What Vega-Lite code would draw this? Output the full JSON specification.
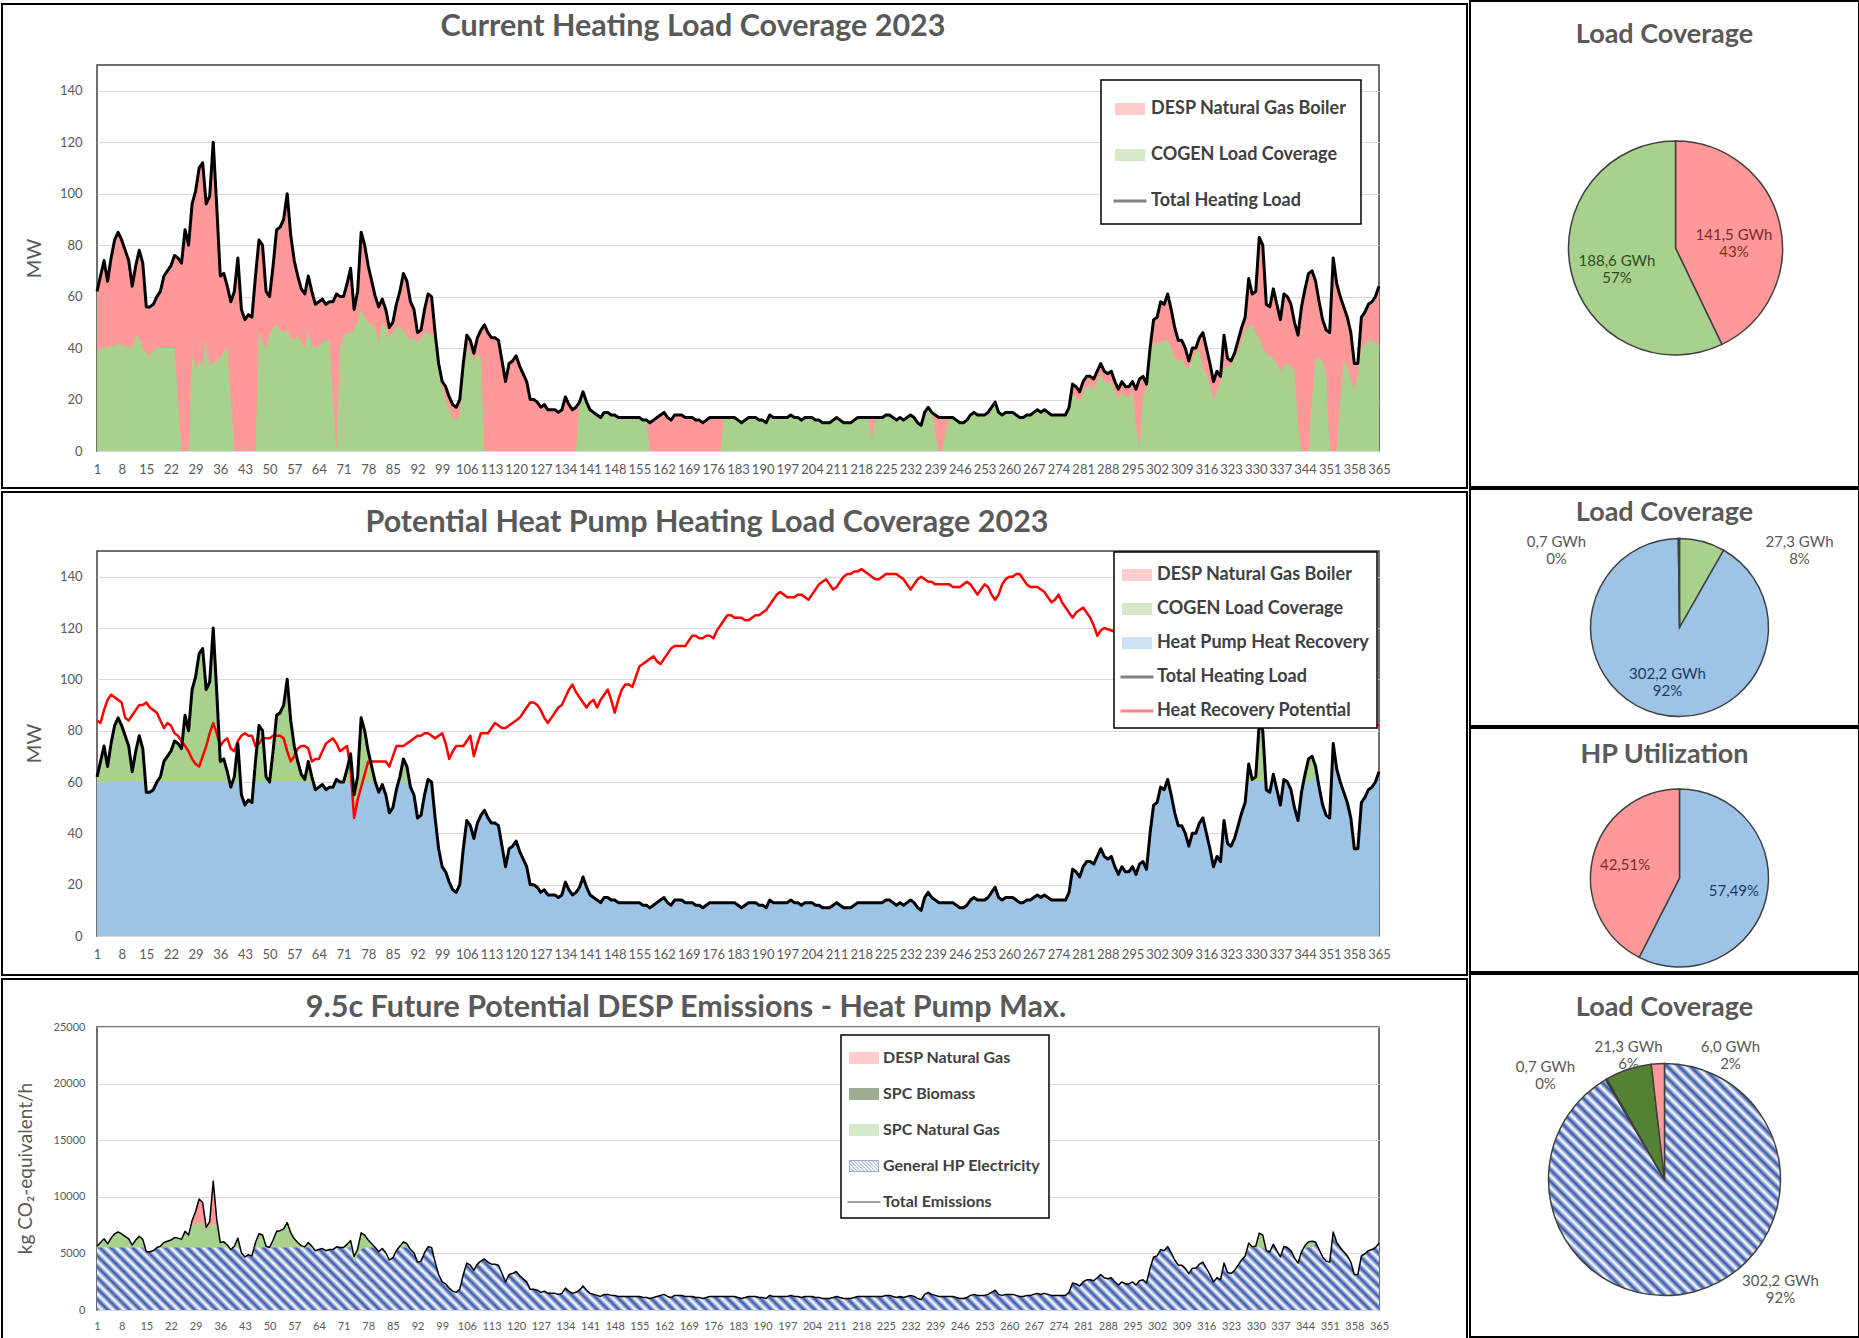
{
"$schema":"https://vega.github.io/schema/vega-lite/v6.json",
"padding":0,
"background":"white",
"spacing":0,
"resolve":{"scale":{"color":"independent","shape":"independent","theta":"independent"},"legend":{"color":"independent","shape":"independent"}},
"config":{"font":"Lato","view":{"stroke":null},"axis":{"labelFont":"Lato","titleFont":"Lato","labelOverlap":false},"legend":{"labelFont":"Lato","strokeWidth":1.5},"title":{"font":"Lato","fontSize":30.5,"fontWeight":"bold","color":"#595959"},"text":{"font":"Lato"}},
"datasets":{"days":[
{"d":1,"L":62,"G":38,"H":60,"R":84,"E":5630,"B":5520},
{"d":2,"L":68,"G":40,"H":60,"R":83,"E":5960,"B":5520},
{"d":3,"L":74,"G":40,"H":60,"R":88,"E":6290,"B":5520},
{"d":4,"L":66,"G":40,"H":60,"R":92,"E":5850,"B":5520},
{"d":5,"L":75,"G":41,"H":60,"R":94,"E":6350,"B":5520},
{"d":6,"L":82,"G":41,"H":60,"R":93,"E":6730,"B":5520},
{"d":7,"L":85,"G":42,"H":60,"R":92,"E":6900,"B":5520},
{"d":8,"L":82,"G":41,"H":60,"R":91,"E":6730,"B":5520},
{"d":9,"L":78,"G":41,"H":60,"R":85,"E":6510,"B":5520},
{"d":10,"L":74,"G":40,"H":60,"R":84,"E":6290,"B":5520},
{"d":11,"L":64,"G":40,"H":60,"R":86,"E":5740,"B":5520},
{"d":12,"L":72,"G":45,"H":60,"R":88,"E":6180,"B":5520},
{"d":13,"L":78,"G":44,"H":60,"R":90,"E":6510,"B":5520},
{"d":14,"L":73,"G":40,"H":60,"R":90,"E":6240,"B":5520},
{"d":15,"L":56,"G":38,"H":56,"R":91,"E":5150,"B":5150},
{"d":16,"L":56,"G":37,"H":56,"R":89,"E":5150,"B":5150},
{"d":17,"L":57,"G":39,"H":57,"R":88,"E":5240,"B":5240},
{"d":18,"L":60,"G":40,"H":60,"R":87,"E":5520,"B":5520},
{"d":19,"L":62,"G":40,"H":60,"R":84,"E":5630,"B":5520},
{"d":20,"L":68,"G":40,"H":60,"R":81,"E":5960,"B":5520},
{"d":21,"L":70,"G":40,"H":60,"R":83,"E":6070,"B":5520},
{"d":22,"L":72,"G":40,"H":60,"R":82,"E":6180,"B":5520},
{"d":23,"L":76,"G":40,"H":60,"R":79,"E":6400,"B":5520},
{"d":24,"L":75,"G":20,"H":60,"R":78,"E":6350,"B":5520},
{"d":25,"L":73,"G":0,"H":60,"R":76,"E":6240,"B":5520},
{"d":26,"L":86,"G":0,"H":60,"R":74,"E":6950,"B":5520},
{"d":27,"L":80,"G":0,"H":60,"R":72,"E":6620,"B":5520},
{"d":28,"L":96,"G":38,"H":60,"R":69,"E":7900,"B":5520},
{"d":29,"L":101,"G":32,"H":60,"R":67,"E":8700,"B":5520},
{"d":30,"L":110,"G":35,"H":60,"R":66,"E":9800,"B":5520},
{"d":31,"L":112,"G":33,"H":60,"R":70,"E":9500,"B":5520},
{"d":32,"L":96,"G":43,"H":60,"R":74,"E":7300,"B":5520},
{"d":33,"L":99,"G":33,"H":60,"R":79,"E":7800,"B":5520},
{"d":34,"L":120,"G":34,"H":60,"R":83,"E":11400,"B":5520},
{"d":35,"L":95,"G":35,"H":60,"R":79,"E":8000,"B":5520},
{"d":36,"L":68,"G":36,"H":60,"R":74,"E":5960,"B":5520},
{"d":37,"L":69,"G":39,"H":60,"R":76,"E":6020,"B":5520},
{"d":38,"L":64,"G":40,"H":60,"R":77,"E":5740,"B":5520},
{"d":39,"L":58,"G":20,"H":58,"R":73,"E":5340,"B":5340},
{"d":40,"L":62,"G":0,"H":60,"R":72,"E":5630,"B":5520},
{"d":41,"L":75,"G":0,"H":60,"R":76,"E":6350,"B":5520},
{"d":42,"L":55,"G":0,"H":55,"R":78,"E":5060,"B":5060},
{"d":43,"L":51,"G":0,"H":51,"R":79,"E":4690,"B":4690},
{"d":44,"L":53,"G":0,"H":53,"R":78,"E":4880,"B":4880},
{"d":45,"L":52,"G":0,"H":52,"R":78,"E":4780,"B":4780},
{"d":46,"L":68,"G":0,"H":60,"R":74,"E":5960,"B":5520},
{"d":47,"L":82,"G":47,"H":60,"R":75,"E":6730,"B":5520},
{"d":48,"L":80,"G":42,"H":60,"R":77,"E":6620,"B":5520},
{"d":49,"L":62,"G":40,"H":60,"R":77,"E":5630,"B":5520},
{"d":50,"L":60,"G":45,"H":60,"R":77,"E":5520,"B":5520},
{"d":51,"L":72,"G":48,"H":60,"R":78,"E":6180,"B":5520},
{"d":52,"L":86,"G":49,"H":60,"R":78,"E":6950,"B":5520},
{"d":53,"L":87,"G":47,"H":60,"R":78,"E":7010,"B":5520},
{"d":54,"L":90,"G":46,"H":60,"R":77,"E":7170,"B":5520},
{"d":55,"L":100,"G":47,"H":60,"R":72,"E":7720,"B":5520},
{"d":56,"L":84,"G":44,"H":60,"R":68,"E":6840,"B":5520},
{"d":57,"L":74,"G":43,"H":60,"R":70,"E":6290,"B":5520},
{"d":58,"L":68,"G":45,"H":60,"R":73,"E":5960,"B":5520},
{"d":59,"L":63,"G":42,"H":60,"R":74,"E":5690,"B":5520},
{"d":60,"L":61,"G":40,"H":60,"R":74,"E":5580,"B":5520},
{"d":61,"L":68,"G":47,"H":60,"R":73,"E":5960,"B":5520},
{"d":62,"L":62,"G":41,"H":60,"R":68,"E":5630,"B":5520},
{"d":63,"L":57,"G":40,"H":57,"R":69,"E":5240,"B":5240},
{"d":64,"L":58,"G":41,"H":58,"R":69,"E":5340,"B":5340},
{"d":65,"L":59,"G":42,"H":59,"R":72,"E":5430,"B":5430},
{"d":66,"L":57,"G":43,"H":57,"R":75,"E":5240,"B":5240},
{"d":67,"L":58,"G":43,"H":58,"R":76,"E":5340,"B":5340},
{"d":68,"L":58,"G":20,"H":58,"R":77,"E":5340,"B":5340},
{"d":69,"L":61,"G":0,"H":60,"R":75,"E":5580,"B":5520},
{"d":70,"L":60,"G":40,"H":60,"R":72,"E":5520,"B":5520},
{"d":71,"L":60,"G":45,"H":60,"R":73,"E":5520,"B":5520},
{"d":72,"L":65,"G":46,"H":60,"R":74,"E":5800,"B":5520},
{"d":73,"L":71,"G":46,"H":60,"R":65,"E":6130,"B":5520},
{"d":74,"L":55,"G":47,"H":46,"R":46,"E":4730,"B":4230},
{"d":75,"L":62,"G":50,"H":53,"R":53,"E":5370,"B":4880},
{"d":76,"L":85,"G":55,"H":58,"R":58,"E":6820,"B":5340},
{"d":77,"L":80,"G":52,"H":60,"R":63,"E":6620,"B":5520},
{"d":78,"L":72,"G":50,"H":60,"R":68,"E":6180,"B":5520},
{"d":79,"L":66,"G":49,"H":60,"R":68,"E":5850,"B":5520},
{"d":80,"L":60,"G":48,"H":60,"R":68,"E":5520,"B":5520},
{"d":81,"L":56,"G":42,"H":56,"R":68,"E":5150,"B":5150},
{"d":82,"L":59,"G":50,"H":59,"R":68,"E":5430,"B":5430},
{"d":83,"L":55,"G":48,"H":55,"R":68,"E":5060,"B":5060},
{"d":84,"L":48,"G":44,"H":48,"R":66,"E":4420,"B":4420},
{"d":85,"L":50,"G":46,"H":50,"R":70,"E":4600,"B":4600},
{"d":86,"L":57,"G":48,"H":57,"R":74,"E":5240,"B":5240},
{"d":87,"L":62,"G":48,"H":60,"R":74,"E":5630,"B":5520},
{"d":88,"L":69,"G":47,"H":60,"R":74,"E":6020,"B":5520},
{"d":89,"L":66,"G":45,"H":60,"R":75,"E":5850,"B":5520},
{"d":90,"L":58,"G":43,"H":58,"R":76,"E":5340,"B":5340},
{"d":91,"L":55,"G":44,"H":55,"R":77,"E":5060,"B":5060},
{"d":92,"L":46,"G":42,"H":46,"R":78,"E":4230,"B":4230},
{"d":93,"L":47,"G":44,"H":47,"R":78,"E":4320,"B":4320},
{"d":94,"L":55,"G":46,"H":55,"R":79,"E":5060,"B":5060},
{"d":95,"L":61,"G":46,"H":60,"R":79,"E":5580,"B":5520},
{"d":96,"L":60,"G":45,"H":60,"R":78,"E":5520,"B":5520},
{"d":97,"L":46,"G":44,"H":46,"R":77,"E":4230,"B":4230},
{"d":98,"L":34,"G":32,"H":34,"R":78,"E":3130,"B":3130},
{"d":99,"L":27,"G":25,"H":27,"R":79,"E":2480,"B":2480},
{"d":100,"L":25,"G":20,"H":25,"R":75,"E":2300,"B":2300},
{"d":101,"L":21,"G":16,"H":21,"R":69,"E":1930,"B":1930},
{"d":102,"L":18,"G":13,"H":18,"R":72,"E":1660,"B":1660},
{"d":103,"L":17,"G":12,"H":17,"R":74,"E":1560,"B":1560},
{"d":104,"L":20,"G":14,"H":20,"R":74,"E":1840,"B":1840},
{"d":105,"L":34,"G":30,"H":34,"R":74,"E":3130,"B":3130},
{"d":106,"L":45,"G":42,"H":45,"R":76,"E":4140,"B":4140},
{"d":107,"L":43,"G":38,"H":43,"R":78,"E":3960,"B":3960},
{"d":108,"L":38,"G":35,"H":38,"R":70,"E":3500,"B":3500},
{"d":109,"L":44,"G":38,"H":44,"R":75,"E":4050,"B":4050},
{"d":110,"L":47,"G":36,"H":47,"R":79,"E":4320,"B":4320},
{"d":111,"L":49,"G":0,"H":49,"R":79,"E":4510,"B":4510},
{"d":112,"L":46,"G":0,"H":46,"R":79,"E":4230,"B":4230},
{"d":113,"L":44,"G":0,"H":44,"R":81,"E":4050,"B":4050},
{"d":114,"L":44,"G":0,"H":44,"R":83,"E":4050,"B":4050},
{"d":115,"L":43,"G":0,"H":43,"R":82,"E":3960,"B":3960},
{"d":116,"L":35,"G":0,"H":35,"R":81,"E":3220,"B":3220},
{"d":117,"L":27,"G":0,"H":27,"R":81,"E":2480,"B":2480},
{"d":118,"L":34,"G":0,"H":34,"R":82,"E":3130,"B":3130},
{"d":119,"L":35,"G":0,"H":35,"R":83,"E":3220,"B":3220},
{"d":120,"L":37,"G":0,"H":37,"R":84,"E":3400,"B":3400},
{"d":121,"L":33,"G":0,"H":33,"R":85,"E":3040,"B":3040},
{"d":122,"L":30,"G":0,"H":30,"R":87,"E":2760,"B":2760},
{"d":123,"L":27,"G":0,"H":27,"R":89,"E":2480,"B":2480},
{"d":124,"L":20,"G":0,"H":20,"R":91,"E":1840,"B":1840},
{"d":125,"L":20,"G":0,"H":20,"R":91,"E":1840,"B":1840},
{"d":126,"L":19,"G":0,"H":19,"R":90,"E":1750,"B":1750},
{"d":127,"L":17,"G":0,"H":17,"R":88,"E":1560,"B":1560},
{"d":128,"L":18,"G":0,"H":18,"R":85,"E":1660,"B":1660},
{"d":129,"L":16,"G":0,"H":16,"R":83,"E":1470,"B":1470},
{"d":130,"L":16,"G":0,"H":16,"R":85,"E":1470,"B":1470},
{"d":131,"L":16,"G":0,"H":16,"R":87,"E":1470,"B":1470},
{"d":132,"L":15,"G":0,"H":15,"R":89,"E":1380,"B":1380},
{"d":133,"L":16,"G":0,"H":16,"R":90,"E":1470,"B":1470},
{"d":134,"L":21,"G":0,"H":21,"R":93,"E":1930,"B":1930},
{"d":135,"L":18,"G":0,"H":18,"R":96,"E":1660,"B":1660},
{"d":136,"L":16,"G":0,"H":16,"R":98,"E":1470,"B":1470},
{"d":137,"L":17,"G":0,"H":17,"R":95,"E":1560,"B":1560},
{"d":138,"L":19,"G":19,"H":19,"R":93,"E":1750,"B":1750},
{"d":139,"L":23,"G":23,"H":23,"R":91,"E":2120,"B":2120},
{"d":140,"L":19,"G":19,"H":19,"R":89,"E":1750,"B":1750},
{"d":141,"L":16,"G":16,"H":16,"R":91,"E":1470,"B":1470},
{"d":142,"L":15,"G":15,"H":15,"R":92,"E":1380,"B":1380},
{"d":143,"L":14,"G":14,"H":14,"R":89,"E":1290,"B":1290},
{"d":144,"L":13,"G":13,"H":13,"R":92,"E":1200,"B":1200},
{"d":145,"L":15,"G":15,"H":15,"R":94,"E":1380,"B":1380},
{"d":146,"L":15,"G":15,"H":15,"R":96,"E":1380,"B":1380},
{"d":147,"L":14,"G":14,"H":14,"R":92,"E":1290,"B":1290},
{"d":148,"L":14,"G":14,"H":14,"R":87,"E":1290,"B":1290},
{"d":149,"L":13,"G":13,"H":13,"R":92,"E":1200,"B":1200},
{"d":150,"L":13,"G":13,"H":13,"R":96,"E":1200,"B":1200},
{"d":151,"L":13,"G":13,"H":13,"R":98,"E":1200,"B":1200},
{"d":152,"L":13,"G":13,"H":13,"R":98,"E":1200,"B":1200},
{"d":153,"L":13,"G":13,"H":13,"R":97,"E":1200,"B":1200},
{"d":154,"L":13,"G":13,"H":13,"R":101,"E":1200,"B":1200},
{"d":155,"L":13,"G":13,"H":13,"R":105,"E":1200,"B":1200},
{"d":156,"L":12,"G":12,"H":12,"R":106,"E":1100,"B":1100},
{"d":157,"L":12,"G":12,"H":12,"R":107,"E":1100,"B":1100},
{"d":158,"L":11,"G":0,"H":11,"R":108,"E":1010,"B":1010},
{"d":159,"L":12,"G":0,"H":12,"R":109,"E":1100,"B":1100},
{"d":160,"L":13,"G":0,"H":13,"R":107,"E":1200,"B":1200},
{"d":161,"L":14,"G":0,"H":14,"R":106,"E":1290,"B":1290},
{"d":162,"L":15,"G":0,"H":15,"R":108,"E":1380,"B":1380},
{"d":163,"L":13,"G":0,"H":13,"R":110,"E":1200,"B":1200},
{"d":164,"L":12,"G":0,"H":12,"R":112,"E":1100,"B":1100},
{"d":165,"L":14,"G":0,"H":14,"R":113,"E":1290,"B":1290},
{"d":166,"L":14,"G":0,"H":14,"R":113,"E":1290,"B":1290},
{"d":167,"L":14,"G":0,"H":14,"R":113,"E":1290,"B":1290},
{"d":168,"L":13,"G":0,"H":13,"R":113,"E":1200,"B":1200},
{"d":169,"L":13,"G":0,"H":13,"R":115,"E":1200,"B":1200},
{"d":170,"L":13,"G":0,"H":13,"R":117,"E":1200,"B":1200},
{"d":171,"L":12,"G":0,"H":12,"R":117,"E":1100,"B":1100},
{"d":172,"L":12,"G":0,"H":12,"R":116,"E":1100,"B":1100},
{"d":173,"L":11,"G":0,"H":11,"R":116,"E":1010,"B":1010},
{"d":174,"L":12,"G":0,"H":12,"R":117,"E":1100,"B":1100},
{"d":175,"L":13,"G":0,"H":13,"R":117,"E":1200,"B":1200},
{"d":176,"L":13,"G":0,"H":13,"R":116,"E":1200,"B":1200},
{"d":177,"L":13,"G":0,"H":13,"R":119,"E":1200,"B":1200},
{"d":178,"L":13,"G":0,"H":13,"R":121,"E":1200,"B":1200},
{"d":179,"L":13,"G":13,"H":13,"R":123,"E":1200,"B":1200},
{"d":180,"L":13,"G":13,"H":13,"R":125,"E":1200,"B":1200},
{"d":181,"L":13,"G":13,"H":13,"R":125,"E":1200,"B":1200},
{"d":182,"L":13,"G":13,"H":13,"R":124,"E":1200,"B":1200},
{"d":183,"L":12,"G":12,"H":12,"R":124,"E":1100,"B":1100},
{"d":184,"L":11,"G":11,"H":11,"R":124,"E":1010,"B":1010},
{"d":185,"L":12,"G":12,"H":12,"R":123,"E":1100,"B":1100},
{"d":186,"L":13,"G":13,"H":13,"R":123,"E":1200,"B":1200},
{"d":187,"L":13,"G":13,"H":13,"R":124,"E":1200,"B":1200},
{"d":188,"L":13,"G":13,"H":13,"R":125,"E":1200,"B":1200},
{"d":189,"L":12,"G":12,"H":12,"R":125,"E":1100,"B":1100},
{"d":190,"L":12,"G":12,"H":12,"R":126,"E":1100,"B":1100},
{"d":191,"L":11,"G":11,"H":11,"R":127,"E":1010,"B":1010},
{"d":192,"L":14,"G":14,"H":14,"R":129,"E":1290,"B":1290},
{"d":193,"L":13,"G":13,"H":13,"R":131,"E":1200,"B":1200},
{"d":194,"L":13,"G":13,"H":13,"R":133,"E":1200,"B":1200},
{"d":195,"L":13,"G":13,"H":13,"R":134,"E":1200,"B":1200},
{"d":196,"L":13,"G":13,"H":13,"R":133,"E":1200,"B":1200},
{"d":197,"L":13,"G":13,"H":13,"R":132,"E":1200,"B":1200},
{"d":198,"L":14,"G":14,"H":14,"R":132,"E":1290,"B":1290},
{"d":199,"L":13,"G":13,"H":13,"R":132,"E":1200,"B":1200},
{"d":200,"L":13,"G":13,"H":13,"R":133,"E":1200,"B":1200},
{"d":201,"L":12,"G":12,"H":12,"R":133,"E":1100,"B":1100},
{"d":202,"L":13,"G":13,"H":13,"R":132,"E":1200,"B":1200},
{"d":203,"L":13,"G":13,"H":13,"R":131,"E":1200,"B":1200},
{"d":204,"L":13,"G":13,"H":13,"R":133,"E":1200,"B":1200},
{"d":205,"L":12,"G":12,"H":12,"R":135,"E":1100,"B":1100},
{"d":206,"L":12,"G":12,"H":12,"R":137,"E":1100,"B":1100},
{"d":207,"L":11,"G":11,"H":11,"R":138,"E":1010,"B":1010},
{"d":208,"L":11,"G":11,"H":11,"R":139,"E":1010,"B":1010},
{"d":209,"L":11,"G":11,"H":11,"R":137,"E":1010,"B":1010},
{"d":210,"L":12,"G":12,"H":12,"R":135,"E":1100,"B":1100},
{"d":211,"L":13,"G":13,"H":13,"R":136,"E":1200,"B":1200},
{"d":212,"L":12,"G":12,"H":12,"R":138,"E":1100,"B":1100},
{"d":213,"L":11,"G":11,"H":11,"R":140,"E":1010,"B":1010},
{"d":214,"L":11,"G":11,"H":11,"R":141,"E":1010,"B":1010},
{"d":215,"L":11,"G":11,"H":11,"R":141,"E":1010,"B":1010},
{"d":216,"L":12,"G":12,"H":12,"R":142,"E":1100,"B":1100},
{"d":217,"L":13,"G":13,"H":13,"R":142,"E":1200,"B":1200},
{"d":218,"L":13,"G":13,"H":13,"R":143,"E":1200,"B":1200},
{"d":219,"L":13,"G":13,"H":13,"R":142,"E":1200,"B":1200},
{"d":220,"L":13,"G":13,"H":13,"R":141,"E":1200,"B":1200},
{"d":221,"L":13,"G":4,"H":13,"R":140,"E":1200,"B":1200},
{"d":222,"L":13,"G":13,"H":13,"R":139,"E":1200,"B":1200},
{"d":223,"L":13,"G":13,"H":13,"R":139,"E":1200,"B":1200},
{"d":224,"L":13,"G":13,"H":13,"R":140,"E":1200,"B":1200},
{"d":225,"L":14,"G":14,"H":14,"R":141,"E":1290,"B":1290},
{"d":226,"L":14,"G":14,"H":14,"R":141,"E":1290,"B":1290},
{"d":227,"L":13,"G":13,"H":13,"R":141,"E":1200,"B":1200},
{"d":228,"L":12,"G":12,"H":12,"R":141,"E":1100,"B":1100},
{"d":229,"L":13,"G":13,"H":13,"R":140,"E":1200,"B":1200},
{"d":230,"L":12,"G":12,"H":12,"R":139,"E":1100,"B":1100},
{"d":231,"L":13,"G":13,"H":13,"R":137,"E":1200,"B":1200},
{"d":232,"L":14,"G":14,"H":14,"R":135,"E":1290,"B":1290},
{"d":233,"L":13,"G":13,"H":13,"R":137,"E":1200,"B":1200},
{"d":234,"L":11,"G":11,"H":11,"R":139,"E":1010,"B":1010},
{"d":235,"L":10,"G":10,"H":10,"R":140,"E":920,"B":920},
{"d":236,"L":15,"G":15,"H":15,"R":139,"E":1380,"B":1380},
{"d":237,"L":17,"G":17,"H":17,"R":138,"E":1560,"B":1560},
{"d":238,"L":15,"G":15,"H":15,"R":138,"E":1380,"B":1380},
{"d":239,"L":14,"G":8,"H":14,"R":137,"E":1290,"B":1290},
{"d":240,"L":13,"G":0,"H":13,"R":137,"E":1200,"B":1200},
{"d":241,"L":13,"G":0,"H":13,"R":137,"E":1200,"B":1200},
{"d":242,"L":13,"G":8,"H":13,"R":137,"E":1200,"B":1200},
{"d":243,"L":13,"G":13,"H":13,"R":137,"E":1200,"B":1200},
{"d":244,"L":13,"G":13,"H":13,"R":136,"E":1200,"B":1200},
{"d":245,"L":12,"G":12,"H":12,"R":136,"E":1100,"B":1100},
{"d":246,"L":11,"G":11,"H":11,"R":136,"E":1010,"B":1010},
{"d":247,"L":11,"G":11,"H":11,"R":137,"E":1010,"B":1010},
{"d":248,"L":12,"G":12,"H":12,"R":138,"E":1100,"B":1100},
{"d":249,"L":14,"G":14,"H":14,"R":137,"E":1290,"B":1290},
{"d":250,"L":15,"G":15,"H":15,"R":135,"E":1380,"B":1380},
{"d":251,"L":14,"G":14,"H":14,"R":133,"E":1290,"B":1290},
{"d":252,"L":14,"G":14,"H":14,"R":135,"E":1290,"B":1290},
{"d":253,"L":14,"G":14,"H":14,"R":137,"E":1290,"B":1290},
{"d":254,"L":15,"G":15,"H":15,"R":136,"E":1380,"B":1380},
{"d":255,"L":17,"G":17,"H":17,"R":133,"E":1560,"B":1560},
{"d":256,"L":19,"G":19,"H":19,"R":131,"E":1750,"B":1750},
{"d":257,"L":15,"G":15,"H":15,"R":133,"E":1380,"B":1380},
{"d":258,"L":14,"G":14,"H":14,"R":137,"E":1290,"B":1290},
{"d":259,"L":15,"G":15,"H":15,"R":139,"E":1380,"B":1380},
{"d":260,"L":15,"G":15,"H":15,"R":140,"E":1380,"B":1380},
{"d":261,"L":15,"G":15,"H":15,"R":140,"E":1380,"B":1380},
{"d":262,"L":14,"G":14,"H":14,"R":141,"E":1290,"B":1290},
{"d":263,"L":13,"G":13,"H":13,"R":141,"E":1200,"B":1200},
{"d":264,"L":13,"G":13,"H":13,"R":139,"E":1200,"B":1200},
{"d":265,"L":14,"G":14,"H":14,"R":137,"E":1290,"B":1290},
{"d":266,"L":14,"G":14,"H":14,"R":136,"E":1290,"B":1290},
{"d":267,"L":15,"G":15,"H":15,"R":136,"E":1380,"B":1380},
{"d":268,"L":16,"G":16,"H":16,"R":136,"E":1470,"B":1470},
{"d":269,"L":15,"G":15,"H":15,"R":135,"E":1380,"B":1380},
{"d":270,"L":16,"G":16,"H":16,"R":134,"E":1470,"B":1470},
{"d":271,"L":15,"G":15,"H":15,"R":132,"E":1380,"B":1380},
{"d":272,"L":14,"G":14,"H":14,"R":130,"E":1290,"B":1290},
{"d":273,"L":14,"G":14,"H":14,"R":131,"E":1290,"B":1290},
{"d":274,"L":14,"G":14,"H":14,"R":133,"E":1290,"B":1290},
{"d":275,"L":14,"G":14,"H":14,"R":130,"E":1290,"B":1290},
{"d":276,"L":14,"G":14,"H":14,"R":128,"E":1290,"B":1290},
{"d":277,"L":17,"G":16,"H":17,"R":126,"E":1560,"B":1560},
{"d":278,"L":26,"G":22,"H":26,"R":124,"E":2390,"B":2390},
{"d":279,"L":25,"G":21,"H":25,"R":126,"E":2300,"B":2300},
{"d":280,"L":23,"G":19,"H":23,"R":127,"E":2120,"B":2120},
{"d":281,"L":27,"G":23,"H":27,"R":128,"E":2480,"B":2480},
{"d":282,"L":29,"G":25,"H":29,"R":126,"E":2670,"B":2670},
{"d":283,"L":29,"G":25,"H":29,"R":124,"E":2670,"B":2670},
{"d":284,"L":28,"G":24,"H":28,"R":121,"E":2580,"B":2580},
{"d":285,"L":31,"G":27,"H":31,"R":117,"E":2850,"B":2850},
{"d":286,"L":34,"G":30,"H":34,"R":119,"E":3130,"B":3130},
{"d":287,"L":31,"G":27,"H":31,"R":120,"E":2850,"B":2850},
{"d":288,"L":30,"G":26,"H":30,"E":2760,"B":2760},
{"d":289,"L":31,"G":27,"H":31,"E":2850,"B":2850},
{"d":290,"L":27,"G":23,"H":27,"E":2480,"B":2480},
{"d":291,"L":24,"G":20,"H":24,"E":2210,"B":2210},
{"d":292,"L":27,"G":23,"H":27,"E":2480,"B":2480},
{"d":293,"L":25,"G":21,"H":25,"E":2300,"B":2300},
{"d":294,"L":25,"G":21,"H":25,"E":2300,"B":2300},
{"d":295,"L":27,"G":23,"H":27,"E":2480,"B":2480},
{"d":296,"L":24,"G":10,"H":24,"E":2210,"B":2210},
{"d":297,"L":28,"G":0,"H":28,"E":2580,"B":2580},
{"d":298,"L":29,"G":22,"H":29,"E":2670,"B":2670},
{"d":299,"L":26,"G":24,"H":26,"E":2390,"B":2390},
{"d":300,"L":40,"G":38,"H":40,"E":3680,"B":3680},
{"d":301,"L":51,"G":42,"H":51,"E":4690,"B":4690},
{"d":302,"L":52,"G":42,"H":52,"E":4780,"B":4780},
{"d":303,"L":58,"G":42,"H":58,"E":5340,"B":5340},
{"d":304,"L":57,"G":43,"H":57,"E":5240,"B":5240},
{"d":305,"L":61,"G":43,"H":61,"E":5610,"B":5610},
{"d":306,"L":55,"G":40,"H":55,"E":5060,"B":5060},
{"d":307,"L":48,"G":36,"H":48,"E":4420,"B":4420},
{"d":308,"L":43,"G":35,"H":43,"E":3960,"B":3960},
{"d":309,"L":43,"G":36,"H":43,"E":3960,"B":3960},
{"d":310,"L":40,"G":33,"H":40,"E":3680,"B":3680},
{"d":311,"L":35,"G":32,"H":35,"E":3220,"B":3220},
{"d":312,"L":40,"G":36,"H":40,"E":3680,"B":3680},
{"d":313,"L":40,"G":39,"H":40,"E":3680,"B":3680},
{"d":314,"L":44,"G":39,"H":44,"E":4050,"B":4050},
{"d":315,"L":46,"G":32,"H":46,"E":4230,"B":4230},
{"d":316,"L":40,"G":30,"H":40,"E":3680,"B":3680},
{"d":317,"L":34,"G":25,"H":34,"E":3130,"B":3130},
{"d":318,"L":27,"G":20,"H":27,"E":2480,"B":2480},
{"d":319,"L":31,"G":23,"H":31,"E":2850,"B":2850},
{"d":320,"L":29,"G":27,"H":29,"E":2670,"B":2670},
{"d":321,"L":45,"G":32,"H":45,"E":4140,"B":4140},
{"d":322,"L":36,"G":33,"H":36,"E":3310,"B":3310},
{"d":323,"L":35,"G":33,"H":35,"E":3220,"B":3220},
{"d":324,"L":38,"G":36,"H":38,"E":3500,"B":3500},
{"d":325,"L":43,"G":39,"H":43,"E":3960,"B":3960},
{"d":326,"L":48,"G":43,"H":48,"E":4420,"B":4420},
{"d":327,"L":52,"G":47,"H":52,"E":4780,"B":4780},
{"d":328,"L":67,"G":48,"H":60,"E":5910,"B":5520},
{"d":329,"L":61,"G":49,"H":60,"E":5580,"B":5520},
{"d":330,"L":62,"G":46,"H":60,"E":5630,"B":5520},
{"d":331,"L":83,"G":44,"H":60,"E":6790,"B":5520},
{"d":332,"L":80,"G":40,"H":60,"E":6620,"B":5520},
{"d":333,"L":57,"G":38,"H":57,"E":5240,"B":5240},
{"d":334,"L":56,"G":37,"H":56,"E":5150,"B":5150},
{"d":335,"L":63,"G":36,"H":63,"E":5800,"B":5800},
{"d":336,"L":57,"G":34,"H":57,"E":5240,"B":5240},
{"d":337,"L":51,"G":31,"H":51,"E":4690,"B":4690},
{"d":338,"L":61,"G":33,"H":61,"E":5610,"B":5610},
{"d":339,"L":60,"G":34,"H":60,"E":5520,"B":5520},
{"d":340,"L":57,"G":33,"H":57,"E":5240,"B":5240},
{"d":341,"L":50,"G":31,"H":50,"E":4600,"B":4600},
{"d":342,"L":45,"G":10,"H":45,"E":4140,"B":4140},
{"d":343,"L":56,"G":0,"H":56,"E":5150,"B":5150},
{"d":344,"L":63,"G":0,"H":60,"E":5690,"B":5520},
{"d":345,"L":69,"G":0,"H":60,"E":6020,"B":5520},
{"d":346,"L":70,"G":20,"H":60,"E":6070,"B":5520},
{"d":347,"L":66,"G":36,"H":64,"E":6000,"B":5890},
{"d":348,"L":58,"G":36,"H":58,"E":5340,"B":5340},
{"d":349,"L":51,"G":35,"H":51,"E":4690,"B":4690},
{"d":350,"L":47,"G":30,"H":47,"E":4320,"B":4320},
{"d":351,"L":46,"G":0,"H":46,"E":4230,"B":4230},
{"d":352,"L":75,"G":0,"H":75,"E":6900,"B":6900},
{"d":353,"L":65,"G":0,"H":65,"E":5980,"B":5980},
{"d":354,"L":60,"G":20,"H":60,"E":5520,"B":5520},
{"d":355,"L":56,"G":35,"H":56,"E":5150,"B":5150},
{"d":356,"L":52,"G":33,"H":52,"E":4780,"B":4780},
{"d":357,"L":46,"G":28,"H":46,"E":4230,"B":4230},
{"d":358,"L":34,"G":24,"H":34,"E":3130,"B":3130},
{"d":359,"L":34,"G":30,"H":34,"E":3130,"B":3130},
{"d":360,"L":52,"G":40,"H":52,"E":4780,"B":4780},
{"d":361,"L":54,"G":42,"H":54,"E":4970,"B":4970},
{"d":362,"L":57,"G":43,"H":57,"E":5240,"B":5240},
{"d":363,"L":58,"G":43,"H":58,"E":5340,"B":5340},
{"d":364,"L":60,"G":42,"H":60,"E":5520,"B":5520},
{"d":365,"L":64,"G":42,"H":64,"R":82,"E":5890,"B":5890}
]},
"hconcat":[
{"vconcat":[
{"width":1282,"height":1,"data":{"values":[]},"mark":{"type":"rule"},"encoding":{}},
{
"width":1282,"height":386,
"view":{"stroke":"#404040","strokeWidth":1.5},
"title":{"text":"Current Heating Load Coverage 2023","frame":"group","anchor":"middle","offset":-54.5,"dx":-45,"baseline":"middle"},
"data":{"name":"days"},
"layer":[
{"mark":{"type":"area","color":"#FF9999"},"encoding":{
 "x":{"field":"d","type":"quantitative","scale":{"domain":[1,365],"nice":false,"zero":false},"axis":{"values":[1,8,15,22,29,36,43,50,57,64,71,78,85,92,99,106,113,120,127,134,141,148,155,162,169,176,183,190,197,204,211,218,225,232,239,246,253,260,267,274,281,288,295,302,309,316,323,330,337,344,351,358,365],"tickCount":100,"title":null,"grid":false,"ticks":false,"tickSize":0,"domain":false,"labelPadding":12,"labelFontSize":13,"labelColor":"#595959","labelOverlap":false,"labelFlush":false}},
 "y":{"field":"L","type":"quantitative","scale":{"domain":[0,150],"nice":false},"axis":{"values":[0,20,40,60,80,100,120,140],"title":"MW","grid":true,"gridColor":"#D9D9D9","ticks":false,"tickSize":0,"domain":false,"labelPadding":15,"labelFontSize":13,"labelColor":"#595959","titleFontSize":20,"titleFontWeight":"normal","titleColor":"#595959","titleX":-63,"titleY":193,"titleAngle":-90,"titleAlign":"center","titleBaseline":"middle"}}}},
{"mark":{"type":"area","color":"#A9D18E"},"encoding":{"x":{"field":"d","type":"quantitative"},"y":{"field":"G","type":"quantitative"}}},
{"mark":{"type":"line","color":"#000000","strokeWidth":3,"strokeJoin":"round"},"encoding":{"x":{"field":"d","type":"quantitative"},"y":{"field":"L","type":"quantitative"}}},
{"data":{"values":[{"f":1}]},"mark":{"type":"rect","filled":false,"color":"#000000","strokeWidth":2},"encoding":{"x":{"datum":-25.973},"x2":{"datum":389.99},"y":{"datum":173.7},"y2":{"datum":-14.378}}},
{"data":{"values":[{"s":"DESP Natural Gas Boiler"},{"s":"COGEN Load Coverage"},{"s":"Total Heating Load"}]},
 "mark":{"type":"point","filled":true,"size":900},
 "encoding":{"x":{"datum":300},"y":{"datum":120},
  "color":{"field":"s","type":"nominal","scale":{"domain":["DESP Natural Gas Boiler","COGEN Load Coverage","Total Heating Load"],"range":["#FF9999","#A9D18E","#000000"]},
   "legend":{"orient":"none","legendX":1004,"legendY":15,"title":null,"fillColor":"white","strokeColor":"black","padding":14,"rowPadding":22,"labelFontSize":18,"labelFontWeight":"bold","labelColor":"#404040","labelLimit":400,"labelOffset":6,"symbolSize":900,"symbolStrokeWidth":0,"symbolOpacity":1}},
  "shape":{"field":"s","type":"nominal","scale":{"domain":["DESP Natural Gas Boiler","COGEN Load Coverage","Total Heating Load"],"range":["M-1,-0.4H1V0.4H-1Z","M-1,-0.4H1V0.4H-1Z","M-1.1,-0.1H1.1V0.1H-1.1Z"]}}}}
]
},
{
"width":1282,"height":385,
"view":{"stroke":"#404040","strokeWidth":1.5},
"title":{"text":"Potential Heat Pump Heating Load Coverage 2023","frame":"group","anchor":"middle","offset":-62.5,"dx":-31,"baseline":"middle"},
"data":{"name":"days"},
"layer":[
{"mark":{"type":"area","color":"#A9D18E"},"encoding":{
 "x":{"field":"d","type":"quantitative","scale":{"domain":[1,365],"nice":false,"zero":false},"axis":{"values":[1,8,15,22,29,36,43,50,57,64,71,78,85,92,99,106,113,120,127,134,141,148,155,162,169,176,183,190,197,204,211,218,225,232,239,246,253,260,267,274,281,288,295,302,309,316,323,330,337,344,351,358,365],"tickCount":100,"title":null,"grid":false,"ticks":false,"tickSize":0,"domain":false,"labelPadding":12,"labelFontSize":13,"labelColor":"#595959","labelOverlap":false,"labelFlush":false}},
 "y":{"field":"L","type":"quantitative","scale":{"domain":[0,150],"nice":false},"axis":{"values":[0,20,40,60,80,100,120,140],"title":"MW","grid":true,"gridColor":"#D9D9D9","ticks":false,"tickSize":0,"domain":false,"labelPadding":15,"labelFontSize":13,"labelColor":"#595959","titleFontSize":20,"titleFontWeight":"normal","titleColor":"#595959","titleX":-63,"titleY":192,"titleAngle":-90,"titleAlign":"center","titleBaseline":"middle"}}}},
{"mark":{"type":"area","color":"#9DC3E6"},"encoding":{"x":{"field":"d","type":"quantitative"},"y":{"field":"H","type":"quantitative"}}},
{"mark":{"type":"line","color":"#FF0000","strokeWidth":2.5,"strokeJoin":"round","invalid":"filter"},"encoding":{"x":{"field":"d","type":"quantitative"},"y":{"field":"R","type":"quantitative"}}},
{"mark":{"type":"line","color":"#000000","strokeWidth":3,"strokeJoin":"round"},"encoding":{"x":{"field":"d","type":"quantitative"},"y":{"field":"L","type":"quantitative"}}},
{"data":{"values":[{"f":1}]},"mark":{"type":"rect","filled":false,"color":"#000000","strokeWidth":2},"encoding":{"x":{"datum":-25.973},"x2":{"datum":389.99},"y":{"datum":172.99},"y2":{"datum":-15.195}}},
{"data":{"values":[{"s":"DESP Natural Gas Boiler"},{"s":"COGEN Load Coverage"},{"s":"Heat Pump Heat Recovery"},{"s":"Total Heating Load"},{"s":"Heat Recovery Potential"}]},
 "mark":{"type":"point","filled":true,"size":900},
 "encoding":{"x":{"datum":330},"y":{"datum":120},
  "color":{"field":"s","type":"nominal","scale":{"domain":["DESP Natural Gas Boiler","COGEN Load Coverage","Heat Pump Heat Recovery","Total Heating Load","Heat Recovery Potential"],"range":["#FF9999","#A9D18E","#9DC3E6","#000000","#FF0000"]},
   "legend":{"orient":"none","legendX":1017,"legendY":1,"title":null,"fillColor":"white","strokeColor":"black","padding":8,"rowPadding":10,"labelFontSize":18,"labelFontWeight":"bold","labelColor":"#404040","labelLimit":400,"labelOffset":5,"symbolSize":900,"symbolStrokeWidth":0,"symbolOpacity":1}},
  "shape":{"field":"s","type":"nominal","scale":{"domain":["DESP Natural Gas Boiler","COGEN Load Coverage","Heat Pump Heat Recovery","Total Heating Load","Heat Recovery Potential"],"range":["M-1,-0.4H1V0.4H-1Z","M-1,-0.4H1V0.4H-1Z","M-1,-0.4H1V0.4H-1Z","M-1.1,-0.1H1.1V0.1H-1.1Z","M-1.1,-0.1H1.1V0.1H-1.1Z"]}}}}
]
},
{
"width":1282,"height":283,
"view":{"stroke":"#404040","strokeWidth":1.5},
"title":{"text":"9.5c Future Potential DESP Emissions - Heat Pump Max.","frame":"group","anchor":"middle","offset":-60.5,"dx":-52,"baseline":"middle"},
"data":{"name":"days"},
"layer":[
{"mark":{"type":"area","color":"#A9D18E"},"encoding":{
 "x":{"field":"d","type":"quantitative","scale":{"domain":[1,365],"nice":false,"zero":false},"axis":{"values":[1,8,15,22,29,36,43,50,57,64,71,78,85,92,99,106,113,120,127,134,141,148,155,162,169,176,183,190,197,204,211,218,225,232,239,246,253,260,267,274,281,288,295,302,309,316,323,330,337,344,351,358,365],"tickCount":100,"title":null,"grid":false,"ticks":false,"tickSize":0,"domain":false,"labelPadding":10,"labelFontSize":11,"labelColor":"#595959","labelOverlap":false,"labelFlush":false}},
 "y":{"field":"E","type":"quantitative","scale":{"domain":[0,25000],"nice":false},"axis":{"values":[0,5000,10000,15000,20000,25000],"format":"d","title":"kg CO₂-equivalent/h","grid":true,"gridColor":"#D9D9D9","ticks":false,"tickSize":0,"domain":false,"labelPadding":12,"labelFontSize":11,"labelColor":"#595959","titleFontSize":19,"titleFontWeight":"normal","titleColor":"#595959","titleX":-72,"titleY":141,"titleAngle":-90,"titleAlign":"center","titleBaseline":"middle"}}}},
{"data":{"values":[{"d":27,"E":6620,"N":6620},{"d":28,"E":7900,"N":7500},{"d":29,"E":8700,"N":7600},{"d":30,"E":9800,"N":7700},{"d":31,"E":9500,"N":7600},{"d":32,"E":7300,"N":7300},{"d":33,"E":7800,"N":7500},{"d":34,"E":11400,"N":7600},{"d":35,"E":8000,"N":7500},{"d":36,"E":5960,"N":5960}]},
 "mark":{"type":"area","color":"#FF9999"},"encoding":{"x":{"field":"d","type":"quantitative"},"y":{"field":"E","type":"quantitative"},"y2":{"field":"N"}}},
{"mark":{"type":"area","fill":{"gradient":"linear","x1":0,"y1":1,"x2":1.057,"y2":0.9356,"stops":[
{"offset":0,"color":"#35a"},{"offset":0.004,"color":"#fff"},{"offset":0.008,"color":"#35a"},{"offset":0.012,"color":"#fff"},{"offset":0.016,"color":"#35a"},{"offset":0.02,"color":"#fff"},{"offset":0.024,"color":"#35a"},{"offset":0.028,"color":"#fff"},{"offset":0.032,"color":"#35a"},{"offset":0.036,"color":"#fff"},
{"offset":0.04,"color":"#35a"},{"offset":0.044,"color":"#fff"},{"offset":0.048,"color":"#35a"},{"offset":0.052,"color":"#fff"},{"offset":0.056,"color":"#35a"},{"offset":0.06,"color":"#fff"},{"offset":0.064,"color":"#35a"},{"offset":0.068,"color":"#fff"},{"offset":0.072,"color":"#35a"},{"offset":0.076,"color":"#fff"},
{"offset":0.08,"color":"#35a"},{"offset":0.084,"color":"#fff"},{"offset":0.088,"color":"#35a"},{"offset":0.092,"color":"#fff"},{"offset":0.096,"color":"#35a"},{"offset":0.1,"color":"#fff"},{"offset":0.104,"color":"#35a"},{"offset":0.108,"color":"#fff"},{"offset":0.112,"color":"#35a"},{"offset":0.116,"color":"#fff"},
{"offset":0.12,"color":"#35a"},{"offset":0.124,"color":"#fff"},{"offset":0.128,"color":"#35a"},{"offset":0.132,"color":"#fff"},{"offset":0.136,"color":"#35a"},{"offset":0.14,"color":"#fff"},{"offset":0.144,"color":"#35a"},{"offset":0.148,"color":"#fff"},{"offset":0.152,"color":"#35a"},{"offset":0.156,"color":"#fff"},
{"offset":0.16,"color":"#35a"},{"offset":0.164,"color":"#fff"},{"offset":0.168,"color":"#35a"},{"offset":0.172,"color":"#fff"},{"offset":0.176,"color":"#35a"},{"offset":0.18,"color":"#fff"},{"offset":0.184,"color":"#35a"},{"offset":0.188,"color":"#fff"},{"offset":0.192,"color":"#35a"},{"offset":0.196,"color":"#fff"},
{"offset":0.2,"color":"#35a"},{"offset":0.204,"color":"#fff"},{"offset":0.208,"color":"#35a"},{"offset":0.212,"color":"#fff"},{"offset":0.216,"color":"#35a"},{"offset":0.22,"color":"#fff"},{"offset":0.224,"color":"#35a"},{"offset":0.228,"color":"#fff"},{"offset":0.232,"color":"#35a"},{"offset":0.236,"color":"#fff"},
{"offset":0.24,"color":"#35a"},{"offset":0.244,"color":"#fff"},{"offset":0.248,"color":"#35a"},{"offset":0.252,"color":"#fff"},{"offset":0.256,"color":"#35a"},{"offset":0.26,"color":"#fff"},{"offset":0.264,"color":"#35a"},{"offset":0.268,"color":"#fff"},{"offset":0.272,"color":"#35a"},{"offset":0.276,"color":"#fff"},
{"offset":0.28,"color":"#35a"},{"offset":0.284,"color":"#fff"},{"offset":0.288,"color":"#35a"},{"offset":0.292,"color":"#fff"},{"offset":0.296,"color":"#35a"},{"offset":0.3,"color":"#fff"},{"offset":0.304,"color":"#35a"},{"offset":0.308,"color":"#fff"},{"offset":0.312,"color":"#35a"},{"offset":0.316,"color":"#fff"},
{"offset":0.32,"color":"#35a"},{"offset":0.324,"color":"#fff"},{"offset":0.328,"color":"#35a"},{"offset":0.332,"color":"#fff"},{"offset":0.336,"color":"#35a"},{"offset":0.34,"color":"#fff"},{"offset":0.344,"color":"#35a"},{"offset":0.348,"color":"#fff"},{"offset":0.352,"color":"#35a"},{"offset":0.356,"color":"#fff"},
{"offset":0.36,"color":"#35a"},{"offset":0.364,"color":"#fff"},{"offset":0.368,"color":"#35a"},{"offset":0.372,"color":"#fff"},{"offset":0.376,"color":"#35a"},{"offset":0.38,"color":"#fff"},{"offset":0.384,"color":"#35a"},{"offset":0.388,"color":"#fff"},{"offset":0.392,"color":"#35a"},{"offset":0.396,"color":"#fff"},
{"offset":0.4,"color":"#35a"},{"offset":0.404,"color":"#fff"},{"offset":0.408,"color":"#35a"},{"offset":0.412,"color":"#fff"},{"offset":0.416,"color":"#35a"},{"offset":0.42,"color":"#fff"},{"offset":0.424,"color":"#35a"},{"offset":0.428,"color":"#fff"},{"offset":0.432,"color":"#35a"},{"offset":0.436,"color":"#fff"},
{"offset":0.44,"color":"#35a"},{"offset":0.444,"color":"#fff"},{"offset":0.448,"color":"#35a"},{"offset":0.452,"color":"#fff"},{"offset":0.456,"color":"#35a"},{"offset":0.46,"color":"#fff"},{"offset":0.464,"color":"#35a"},{"offset":0.468,"color":"#fff"},{"offset":0.472,"color":"#35a"},{"offset":0.476,"color":"#fff"},
{"offset":0.48,"color":"#35a"},{"offset":0.484,"color":"#fff"},{"offset":0.488,"color":"#35a"},{"offset":0.492,"color":"#fff"},{"offset":0.496,"color":"#35a"},{"offset":0.5,"color":"#fff"},{"offset":0.504,"color":"#35a"},{"offset":0.508,"color":"#fff"},{"offset":0.512,"color":"#35a"},{"offset":0.516,"color":"#fff"},
{"offset":0.52,"color":"#35a"},{"offset":0.524,"color":"#fff"},{"offset":0.528,"color":"#35a"},{"offset":0.532,"color":"#fff"},{"offset":0.536,"color":"#35a"},{"offset":0.54,"color":"#fff"},{"offset":0.544,"color":"#35a"},{"offset":0.548,"color":"#fff"},{"offset":0.552,"color":"#35a"},{"offset":0.556,"color":"#fff"},
{"offset":0.56,"color":"#35a"},{"offset":0.564,"color":"#fff"},{"offset":0.568,"color":"#35a"},{"offset":0.572,"color":"#fff"},{"offset":0.576,"color":"#35a"},{"offset":0.58,"color":"#fff"},{"offset":0.584,"color":"#35a"},{"offset":0.588,"color":"#fff"},{"offset":0.592,"color":"#35a"},{"offset":0.596,"color":"#fff"},
{"offset":0.6,"color":"#35a"},{"offset":0.604,"color":"#fff"},{"offset":0.608,"color":"#35a"},{"offset":0.612,"color":"#fff"},{"offset":0.616,"color":"#35a"},{"offset":0.62,"color":"#fff"},{"offset":0.624,"color":"#35a"},{"offset":0.628,"color":"#fff"},{"offset":0.632,"color":"#35a"},{"offset":0.636,"color":"#fff"},
{"offset":0.64,"color":"#35a"},{"offset":0.644,"color":"#fff"},{"offset":0.648,"color":"#35a"},{"offset":0.652,"color":"#fff"},{"offset":0.656,"color":"#35a"},{"offset":0.66,"color":"#fff"},{"offset":0.664,"color":"#35a"},{"offset":0.668,"color":"#fff"},{"offset":0.672,"color":"#35a"},{"offset":0.676,"color":"#fff"},
{"offset":0.68,"color":"#35a"},{"offset":0.684,"color":"#fff"},{"offset":0.688,"color":"#35a"},{"offset":0.692,"color":"#fff"},{"offset":0.696,"color":"#35a"},{"offset":0.7,"color":"#fff"},{"offset":0.704,"color":"#35a"},{"offset":0.708,"color":"#fff"},{"offset":0.712,"color":"#35a"},{"offset":0.716,"color":"#fff"},
{"offset":0.72,"color":"#35a"},{"offset":0.724,"color":"#fff"},{"offset":0.728,"color":"#35a"},{"offset":0.732,"color":"#fff"},{"offset":0.736,"color":"#35a"},{"offset":0.74,"color":"#fff"},{"offset":0.744,"color":"#35a"},{"offset":0.748,"color":"#fff"},{"offset":0.752,"color":"#35a"},{"offset":0.756,"color":"#fff"},
{"offset":0.76,"color":"#35a"},{"offset":0.764,"color":"#fff"},{"offset":0.768,"color":"#35a"},{"offset":0.772,"color":"#fff"},{"offset":0.776,"color":"#35a"},{"offset":0.78,"color":"#fff"},{"offset":0.784,"color":"#35a"},{"offset":0.788,"color":"#fff"},{"offset":0.792,"color":"#35a"},{"offset":0.796,"color":"#fff"},
{"offset":0.8,"color":"#35a"},{"offset":0.804,"color":"#fff"},{"offset":0.808,"color":"#35a"},{"offset":0.812,"color":"#fff"},{"offset":0.816,"color":"#35a"},{"offset":0.82,"color":"#fff"},{"offset":0.824,"color":"#35a"},{"offset":0.828,"color":"#fff"},{"offset":0.832,"color":"#35a"},{"offset":0.836,"color":"#fff"},
{"offset":0.84,"color":"#35a"},{"offset":0.844,"color":"#fff"},{"offset":0.848,"color":"#35a"},{"offset":0.852,"color":"#fff"},{"offset":0.856,"color":"#35a"},{"offset":0.86,"color":"#fff"},{"offset":0.864,"color":"#35a"},{"offset":0.868,"color":"#fff"},{"offset":0.872,"color":"#35a"},{"offset":0.876,"color":"#fff"},
{"offset":0.88,"color":"#35a"},{"offset":0.884,"color":"#fff"},{"offset":0.888,"color":"#35a"},{"offset":0.892,"color":"#fff"},{"offset":0.896,"color":"#35a"},{"offset":0.9,"color":"#fff"},{"offset":0.904,"color":"#35a"},{"offset":0.908,"color":"#fff"},{"offset":0.912,"color":"#35a"},{"offset":0.916,"color":"#fff"},
{"offset":0.92,"color":"#35a"},{"offset":0.924,"color":"#fff"},{"offset":0.928,"color":"#35a"},{"offset":0.932,"color":"#fff"},{"offset":0.936,"color":"#35a"},{"offset":0.94,"color":"#fff"},{"offset":0.944,"color":"#35a"},{"offset":0.948,"color":"#fff"},{"offset":0.952,"color":"#35a"},{"offset":0.956,"color":"#fff"},
{"offset":0.96,"color":"#35a"},{"offset":0.964,"color":"#fff"},{"offset":0.968,"color":"#35a"},{"offset":0.972,"color":"#fff"},{"offset":0.976,"color":"#35a"},{"offset":0.98,"color":"#fff"},{"offset":0.984,"color":"#35a"},{"offset":0.988,"color":"#fff"},{"offset":0.992,"color":"#35a"},{"offset":0.996,"color":"#fff"},
{"offset":1,"color":"#35a"}]}},"encoding":{"x":{"field":"d","type":"quantitative"},"y":{"field":"B","type":"quantitative"}}},
{"mark":{"type":"line","color":"#000000","strokeWidth":1.5,"strokeJoin":"round"},"encoding":{"x":{"field":"d","type":"quantitative"},"y":{"field":"E","type":"quantitative"}}},
{"data":{"values":[{"f":1}]},"mark":{"type":"rect","filled":false,"color":"#000000","strokeWidth":2},"encoding":{"x":{"datum":-25.973},"x2":{"datum":389.99},"y":{"datum":29240},"y2":{"datum":-2827}}},
{"data":{"values":[{"s":"DESP Natural Gas"},{"s":"SPC Biomass"},{"s":"SPC Natural Gas"},{"s":"General HP Electricity"},{"s":"Total Emissions"}]},
 "mark":{"type":"point","filled":true,"size":900},
 "encoding":{"x":{"datum":250},"y":{"datum":15000},
  "color":{"field":"s","type":"nominal","scale":{"domain":["DESP Natural Gas","SPC Biomass","SPC Natural Gas","General HP Electricity","Total Emissions"],"range":["#FF9999","#375623","#A9D18E","#2F5597","#000000"]},
   "legend":{"orient":"none","legendX":744,"legendY":8,"title":null,"fillColor":"white","strokeColor":"black","padding":8,"rowPadding":13,"labelFontSize":16,"labelFontWeight":"bold","labelColor":"#404040","labelLimit":400,"labelOffset":4,"symbolSize":900,"symbolStrokeWidth":0,"symbolOpacity":1}},
  "shape":{"field":"s","type":"nominal","scale":{"domain":["DESP Natural Gas","SPC Biomass","SPC Natural Gas","General HP Electricity","Total Emissions"],"range":["M-1,-0.4H1V0.4H-1Z","M-1,-0.4H1V0.4H-1Z","M-1,-0.4H1V0.4H-1Z","M-1,-0.4H1V0.4H-1Z M-0.94,-0.34V0.34H0.94V-0.34Z M-0.94,-0.34H-0.86L-0.18,0.34H-0.26Z M-0.7,-0.34H-0.62L0.06,0.34H-0.02Z M-0.46,-0.34H-0.38L0.3,0.34H0.22Z M-0.22,-0.34H-0.14L0.54,0.34H0.46Z M0.02,-0.34H0.1L0.78,0.34H0.7Z M0.26,-0.34H0.34L0.94,0.26V0.34Z M0.5,-0.34H0.58L0.94,0.02V0.1Z M0.74,-0.34H0.82L0.94,-0.22V-0.14Z M-0.94,-0.18L-0.42,0.34H-0.5L-0.94,-0.1Z M-0.94,0.06L-0.66,0.34H-0.74L-0.94,0.14Z","M-1.1,-0.05H1.1V0.05H-1.1Z"]}}}}
]
}
],"spacing":0,"resolve":{"scale":{"color":"independent","shape":"independent","theta":"independent"},"legend":{"color":"independent","shape":"independent"}}},
{"vconcat":[
{
"width":389,"height":486,
"view":{"stroke":"#000000","strokeWidth":2},
"title":{"text":"Load Coverage","frame":"group","anchor":"middle","offset":-61,"baseline":"middle","fontSize":27},
"data":{"values":[{"k":"DESP","v":141.5,"o":1,"t":"141,5 GWh\n43%"},{"k":"COGEN","v":188.6,"o":2,"t":"188,6 GWh\n57%"}]},
"encoding":{"theta":{"field":"v","type":"quantitative","stack":true},"order":{"field":"o","type":"quantitative"}},
"layer":[
{"mark":{"type":"arc","outerRadius":107,"stroke":"#404040","strokeWidth":1.5,"xOffset":11,"yOffset":4},"encoding":{"color":{"field":"k","type":"nominal","scale":{"domain":["DESP","COGEN","HP"],"range":["#FF9999","#A9D18E","#9DC3E6"]},"legend":null}}},
{"mark":{"type":"text","radius":60,"xOffset":11,"yOffset":4,"lineBreak":"\n","fontSize":15},"encoding":{"text":{"field":"t"},"color":{"condition":{"test":"datum.k=='DESP'","value":"#7F2A2A"},"value":"#2E4D1F"}}}
]
},
{
"width":389,"height":237,
"view":{"stroke":"#000000","strokeWidth":2},
"title":{"text":"Load Coverage","frame":"group","anchor":"middle","offset":-51,"baseline":"middle","fontSize":27},
"data":{"values":[{"k":"COGEN","v":27.3,"o":1,"t":"27,3 GWh\n8%"},{"k":"HP","v":302.2,"o":2,"t":"302,2 GWh\n92%"},{"k":"DESP","v":0.7,"o":3,"t":"0,7 GWh\n0%"}]},
"encoding":{"theta":{"field":"v","type":"quantitative","stack":true},"order":{"field":"o","type":"quantitative"}},
"layer":[
{"mark":{"type":"arc","outerRadius":89,"stroke":"#404040","strokeWidth":1.5,"xOffset":15,"yOffset":20},"encoding":{"color":{"field":"k","type":"nominal","scale":{"domain":["DESP","COGEN","HP"],"range":["#FF9999","#A9D18E","#9DC3E6"]},"legend":null}}},
{"mark":{"type":"text","radius":48,"xOffset":15,"yOffset":20,"lineBreak":"\n","fontSize":15,"color":"#1F3A5F"},"encoding":{"text":{"condition":{"test":"datum.k=='HP'","field":"t"},"value":""}}},
{"mark":{"type":"text","radius":0,"xOffset":15,"yOffset":20,"dx":120,"dy":-86,"lineBreak":"\n","fontSize":15,"color":"#595959"},"encoding":{"text":{"condition":{"test":"datum.k=='COGEN'","field":"t"},"value":""}}},
{"mark":{"type":"text","radius":0,"xOffset":15,"yOffset":20,"dx":-123,"dy":-86,"lineBreak":"\n","fontSize":15,"color":"#595959"},"encoding":{"text":{"condition":{"test":"datum.k=='DESP'","field":"t"},"value":""}}}
]
},
{
"width":389,"height":244,
"view":{"stroke":"#000000","strokeWidth":2},
"title":{"text":"HP Utilization","frame":"group","anchor":"middle","offset":-54,"baseline":"middle","fontSize":27},
"data":{"values":[{"k":"HP","v":57.49,"o":1,"t":"57,49%"},{"k":"DESP","v":42.51,"o":2,"t":"42,51%"}]},
"encoding":{"theta":{"field":"v","type":"quantitative","stack":true},"order":{"field":"o","type":"quantitative"}},
"layer":[
{"mark":{"type":"arc","outerRadius":89,"stroke":"#404040","strokeWidth":1.5,"xOffset":15,"yOffset":28},"encoding":{"color":{"field":"k","type":"nominal","scale":{"domain":["DESP","COGEN","HP"],"range":["#FF9999","#A9D18E","#9DC3E6"]},"legend":null}}},
{"mark":{"type":"text","radius":56,"xOffset":15,"yOffset":28,"fontSize":15},"encoding":{"text":{"field":"t"},"color":{"condition":{"test":"datum.k=='DESP'","value":"#7F2A2A"},"value":"#1F3A5F"}}}
]
},
{
"width":389,"height":363,
"view":{"stroke":"#000000","strokeWidth":2},
"title":{"text":"Load Coverage","frame":"group","anchor":"middle","offset":-61,"baseline":"middle","fontSize":27},
"data":{"values":[{"k":"HP","v":302.2,"o":1,"t":"302,2 GWh\n92%"},{"k":"BIO","v":0.7,"o":2,"t":"0,7 GWh\n0%"},{"k":"SPC","v":21.3,"o":3,"t":"21,3 GWh\n6%"},{"k":"DESP","v":6.0,"o":4,"t":"6,0 GWh\n2%"}]},
"encoding":{"theta":{"field":"v","type":"quantitative","stack":true},"order":{"field":"o","type":"quantitative"}},
"layer":[
{"mark":{"type":"arc","outerRadius":116,"stroke":"#404040","strokeWidth":1.5,"yOffset":24},"encoding":{"color":{"condition":{"test":"datum.k=='HP'","value":{"gradient":"linear","x1":0,"y1":1,"x2":1,"y2":0,"stops":[
{"offset":0,"color":"#35a"},{"offset":0.0125,"color":"#fff"},{"offset":0.025,"color":"#35a"},{"offset":0.0375,"color":"#fff"},{"offset":0.05,"color":"#35a"},{"offset":0.0625,"color":"#fff"},{"offset":0.075,"color":"#35a"},{"offset":0.0875,"color":"#fff"},{"offset":0.1,"color":"#35a"},{"offset":0.1125,"color":"#fff"},
{"offset":0.125,"color":"#35a"},{"offset":0.1375,"color":"#fff"},{"offset":0.15,"color":"#35a"},{"offset":0.1625,"color":"#fff"},{"offset":0.175,"color":"#35a"},{"offset":0.1875,"color":"#fff"},{"offset":0.2,"color":"#35a"},{"offset":0.2125,"color":"#fff"},{"offset":0.225,"color":"#35a"},{"offset":0.2375,"color":"#fff"},
{"offset":0.25,"color":"#35a"},{"offset":0.2625,"color":"#fff"},{"offset":0.275,"color":"#35a"},{"offset":0.2875,"color":"#fff"},{"offset":0.3,"color":"#35a"},{"offset":0.3125,"color":"#fff"},{"offset":0.325,"color":"#35a"},{"offset":0.3375,"color":"#fff"},{"offset":0.35,"color":"#35a"},{"offset":0.3625,"color":"#fff"},
{"offset":0.375,"color":"#35a"},{"offset":0.3875,"color":"#fff"},{"offset":0.4,"color":"#35a"},{"offset":0.4125,"color":"#fff"},{"offset":0.425,"color":"#35a"},{"offset":0.4375,"color":"#fff"},{"offset":0.45,"color":"#35a"},{"offset":0.4625,"color":"#fff"},{"offset":0.475,"color":"#35a"},{"offset":0.4875,"color":"#fff"},
{"offset":0.5,"color":"#35a"},{"offset":0.5125,"color":"#fff"},{"offset":0.525,"color":"#35a"},{"offset":0.5375,"color":"#fff"},{"offset":0.55,"color":"#35a"},{"offset":0.5625,"color":"#fff"},{"offset":0.575,"color":"#35a"},{"offset":0.5875,"color":"#fff"},{"offset":0.6,"color":"#35a"},{"offset":0.6125,"color":"#fff"},
{"offset":0.625,"color":"#35a"},{"offset":0.6375,"color":"#fff"},{"offset":0.65,"color":"#35a"},{"offset":0.6625,"color":"#fff"},{"offset":0.675,"color":"#35a"},{"offset":0.6875,"color":"#fff"},{"offset":0.7,"color":"#35a"},{"offset":0.7125,"color":"#fff"},{"offset":0.725,"color":"#35a"},{"offset":0.7375,"color":"#fff"},
{"offset":0.75,"color":"#35a"},{"offset":0.7625,"color":"#fff"},{"offset":0.775,"color":"#35a"},{"offset":0.7875,"color":"#fff"},{"offset":0.8,"color":"#35a"},{"offset":0.8125,"color":"#fff"},{"offset":0.825,"color":"#35a"},{"offset":0.8375,"color":"#fff"},{"offset":0.85,"color":"#35a"},{"offset":0.8625,"color":"#fff"},
{"offset":0.875,"color":"#35a"},{"offset":0.8875,"color":"#fff"},{"offset":0.9,"color":"#35a"},{"offset":0.9125,"color":"#fff"},{"offset":0.925,"color":"#35a"},{"offset":0.9375,"color":"#fff"},{"offset":0.95,"color":"#35a"},{"offset":0.9625,"color":"#fff"},{"offset":0.975,"color":"#35a"},{"offset":0.9875,"color":"#fff"},
{"offset":1,"color":"#35a"}]}},"field":"k","type":"nominal","scale":{"domain":["HP","BIO","SPC","DESP"],"range":["#9DC3E6","#375623","#548235","#FF9999"]},"legend":null}}},
{"mark":{"type":"text","radius":0,"yOffset":24,"dx":116,"dy":101,"lineBreak":"\n","fontSize":15,"color":"#595959"},"encoding":{"text":{"condition":{"test":"datum.k=='HP'","field":"t"},"value":""}}},
{"mark":{"type":"text","radius":0,"yOffset":24,"dx":-119,"dy":-113,"lineBreak":"\n","fontSize":15,"color":"#595959"},"encoding":{"text":{"condition":{"test":"datum.k=='BIO'","field":"t"},"value":""}}},
{"mark":{"type":"text","radius":0,"yOffset":24,"dx":-36,"dy":-133,"lineBreak":"\n","fontSize":15,"color":"#595959"},"encoding":{"text":{"condition":{"test":"datum.k=='SPC'","field":"t"},"value":""}}},
{"mark":{"type":"text","radius":0,"yOffset":24,"dx":66,"dy":-133,"lineBreak":"\n","fontSize":15,"color":"#595959"},"encoding":{"text":{"condition":{"test":"datum.k=='DESP'","field":"t"},"value":""}}}
]
}
],"spacing":0,"resolve":{"scale":{"color":"independent","shape":"independent","theta":"independent"},"legend":{"color":"independent","shape":"independent"}}}
]
}
